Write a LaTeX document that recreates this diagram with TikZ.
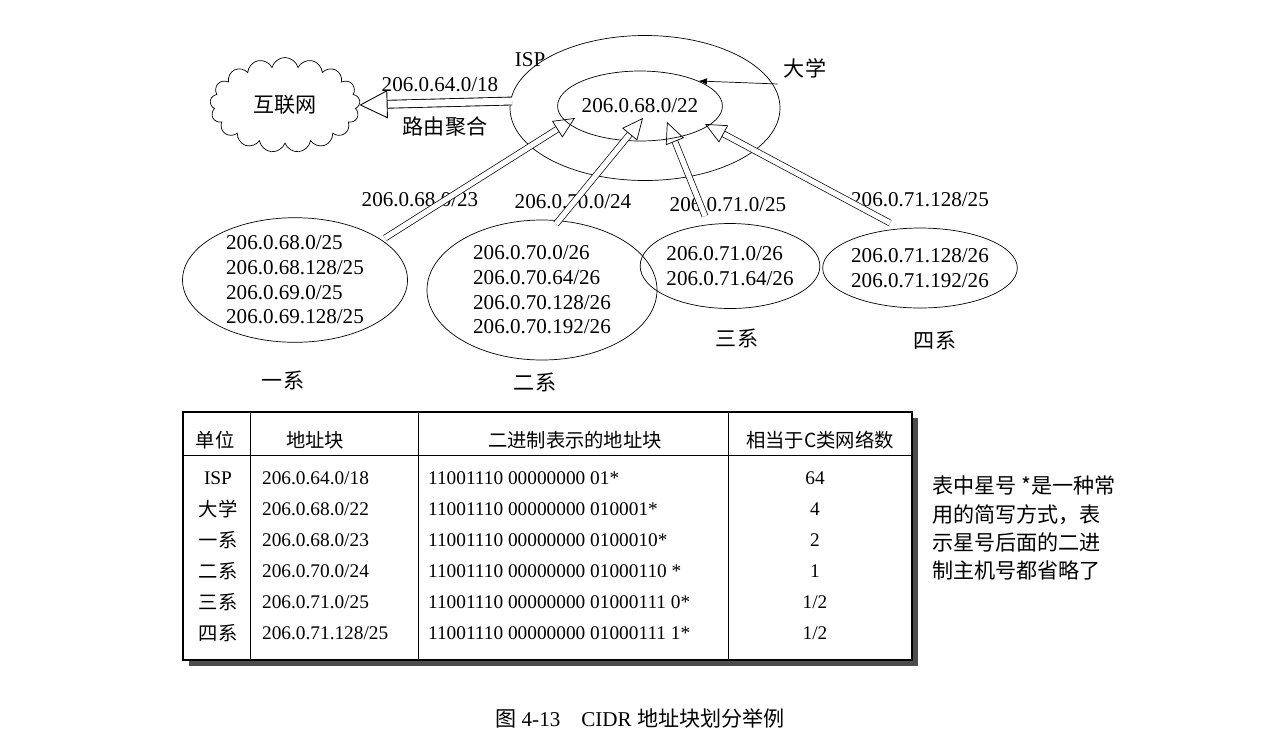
\documentclass[tikz,border=0pt]{standalone}
\usepackage{fontspec}
\setmainfont{Liberation Serif}
\newfontfamily\cjk{Noto Sans CJK SC}
\usetikzlibrary{shapes.symbols,shapes.geometric,arrows.meta}

\tikzset{
    net/.style = {draw, ellipse, inner sep=0pt},
    big/.style = {double=white, double distance=4pt, line width=0.5pt, -{Triangle[open,length=16pt,width=16pt]}},
    cell/.style = {inner sep=1pt, font=\fontsize{11}{12}\selectfont},
}

\begin{document}
\begin{tikzpicture}[x=0.02cm, y=-0.02cm, font=\fontsize{12}{14}\selectfont]
    \useasboundingbox (0,0) rectangle (1274,745);

    % top part
    \node [cloud, draw, cloud puffs=17, minimum width=3cm, minimum height=1.9cm, aspect=1.6] (net) at (285,105) {\cjk 互联网};
    \node [net, minimum width=270*0.02cm, minimum height=145*0.02cm] (isp) at (645,108) {};
    \node [net, minimum width=150*0.02cm, minimum height=70*0.02cm] (uni) at (640,106) {206.0.68.0/22};
    \node (ispl) at (530,60) {ISP};
    \node (unil) at (805,68) {\cjk 大学};
    \draw [-Latex] (unil.south west) -- (uni.north east);

    \coordinate (a0) at (512,101);
    \draw [big] (a0) -- (net.east);
    \node (agg) at (440,85) {206.0.64.0/18};
    \node (aggl) at (445,127) {\cjk 路由聚合};

    % departments
    \node [net, minimum width=225*0.02cm, minimum height=120*0.02cm, align=left] (d1) at (295,280)
        {206.0.68.0/25\\206.0.68.128/25\\206.0.69.0/25\\206.0.69.128/25};
    \node [net, minimum width=230*0.02cm, minimum height=140*0.02cm, align=left] (d2) at (542,290)
        {206.0.70.0/26\\206.0.70.64/26\\206.0.70.128/26\\206.0.70.192/26};
    \node [net, minimum width=160*0.02cm, minimum height=85*0.02cm, align=left] (d3) at (730,266)
        {206.0.71.0/26\\206.0.71.64/26};
    \node [net, minimum width=150*0.02cm, minimum height=80*0.02cm, align=left] (d4) at (920,268)
        {206.0.71.128/26\\206.0.71.192/26};

    \node (l1) at (420,200) {206.0.68.0/23};
    \node (l2) at (573,202) {206.0.70.0/24};
    \node (l3) at (728,205) {206.0.71.0/25};
    \node (l4) at (920,200) {206.0.71.128/25};

    \coordinate (t1) at (575,118);
    \coordinate (t2) at (643,118);
    \coordinate (t3) at (667,122);
    \coordinate (t4) at (705,124);
    \coordinate (s1) at (385,238);
    \coordinate (s2) at (556,224);
    \coordinate (s3) at (705,216);
    \coordinate (s4) at (890,223);
    \foreach \i in {1,...,4}
        \draw [double=white, double distance=3pt, line width=0.4pt, -{Triangle[open,length=12pt,width=11pt]}] (s\i) -- (t\i);

    \node (n1) at (283,380) {\cjk 一系};
    \node (n2) at (535,382) {\cjk 二系};
    \node (n3) at (737,338) {\cjk 三系};
    \node (n4) at (935,340) {\cjk 四系};

    % table
    \fill [black!70] (189,418) rectangle (918,666);
    \draw [line width=1.6pt, fill=white] (183,412) coordinate (tl) rectangle (912,660) coordinate (br);
    \draw (183,455) -- (912,455);
    \foreach \x in {250,418,728}
        \draw (\x,412) -- (\x,660);
    \node [cell] (h1) at (215,440) {\cjk 单位};
    \node [cell] (h2) at (315,440) {\cjk 地址块};
    \node [cell] (h3) at (575,440) {\cjk 二进制表示的地址块};
    \node [cell] (h4) at (820,440) {\cjk 相当于C类网络数};

    \foreach \a/\b/\c/\d [count=\r] in {
        ISP/{206.0.64.0/18}/{11001110 00000000 01*}/64,
        {\cjk 大学}/{206.0.68.0/22}/{11001110 00000000 010001*}/4,
        {\cjk 一系}/{206.0.68.0/23}/{11001110 00000000 0100010*}/2,
        {\cjk 二系}/{206.0.70.0/24}/{11001110 00000000 01000110 *}/1,
        {\cjk 三系}/{206.0.71.0/25}/{11001110 00000000 01000111 0*}/{1/2},
        {\cjk 四系}/{206.0.71.128/25}/{11001110 00000000 01000111 1*}/{1/2}} {
        \pgfmathsetmacro\yy{478+31*(\r-1)}
        \node [cell] (u\r) at (218,\yy) {\a};
        \node [cell, anchor=west] (b\r) at (260,\yy) {\b};
        \node [cell, anchor=west] (c\r) at (426,\yy) {\c};
        \node [cell] (e\r) at (815,\yy) {\d};
    }

    \node [anchor=north west, align=left, font=\fontsize{12}{16}\selectfont\cjk] (note) at (926,470)
        {表中星号 *是一种常\\用的简写方式，表\\示星号后面的二进\\制主机号都省略了};

    \node (cap) at (640,718) {{\cjk 图} 4-13\quad CIDR {\cjk 地址块划分举例}};
\end{tikzpicture}
\end{document}
